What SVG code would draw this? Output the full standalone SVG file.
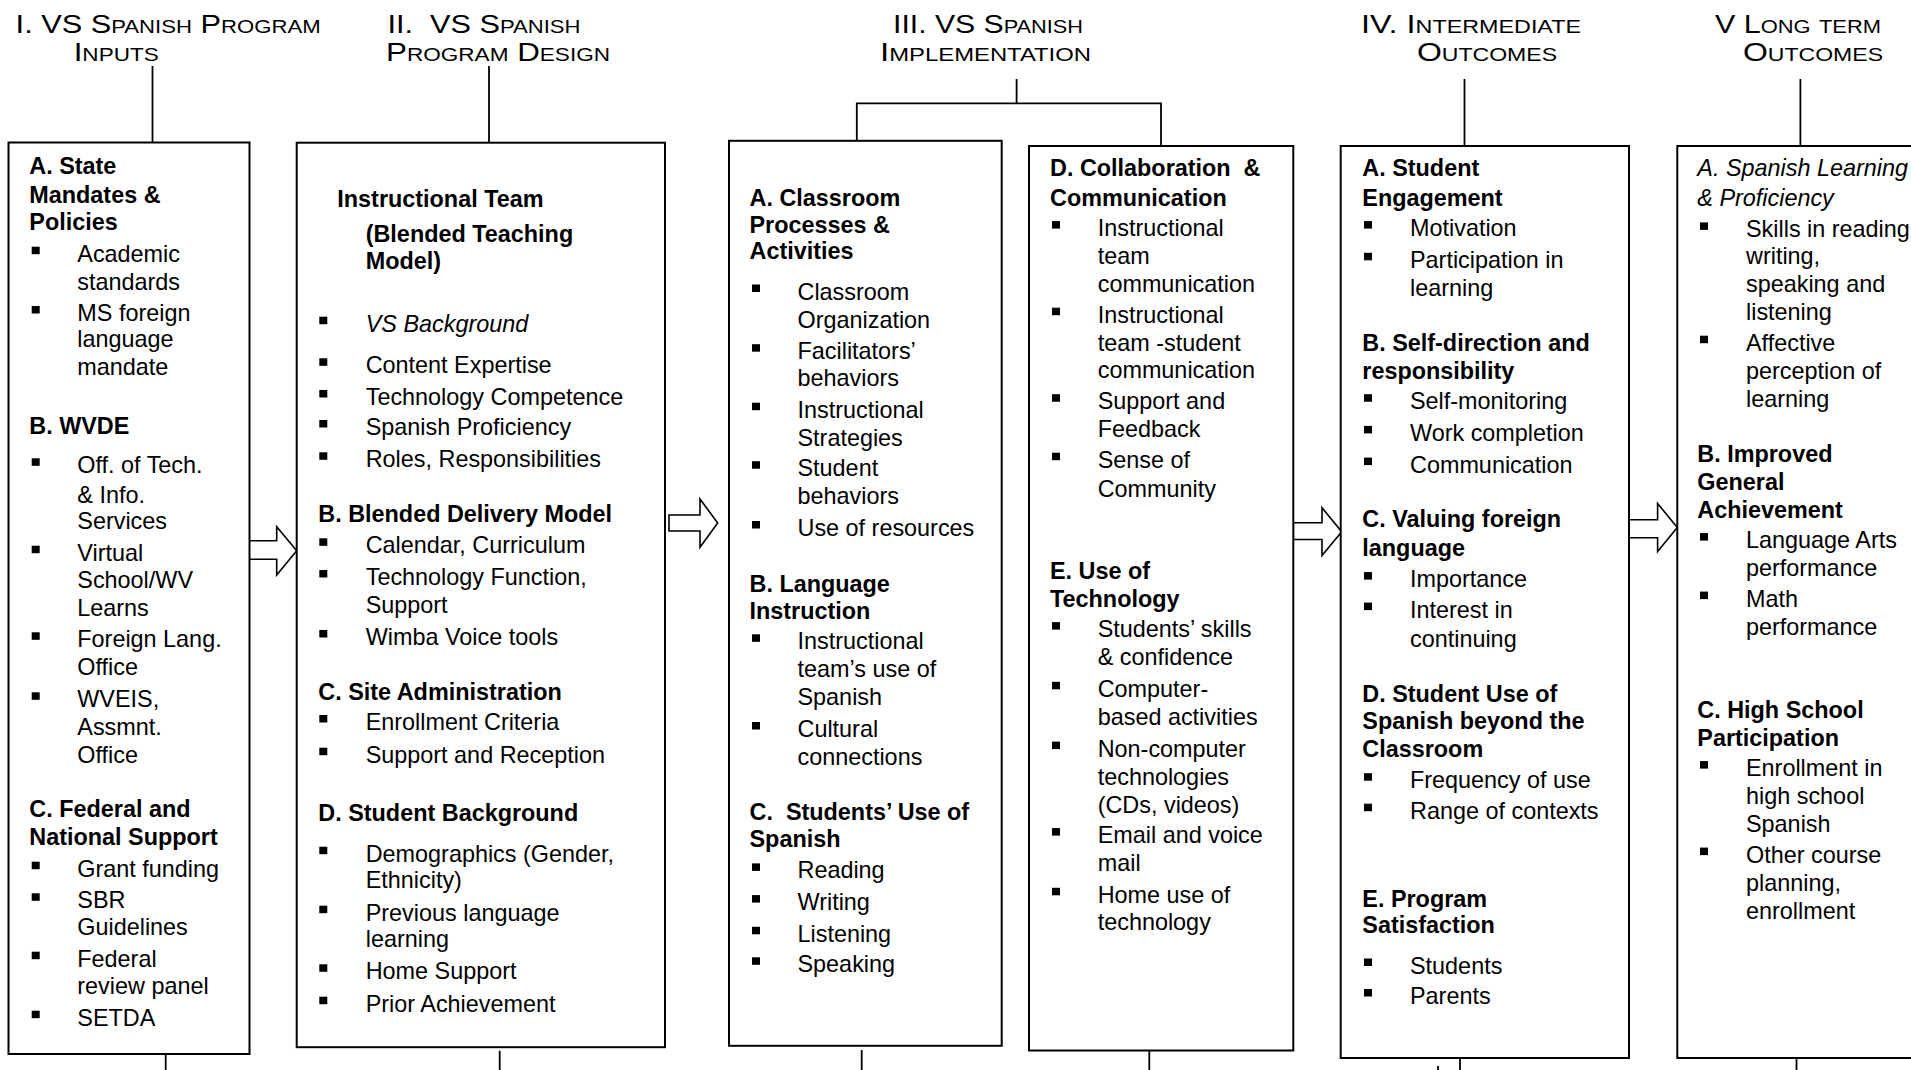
<svg xmlns="http://www.w3.org/2000/svg" xmlns:xlink="http://www.w3.org/1999/xlink" width="1911" height="1070" viewBox="0 0 1911 1070">
<style>
text{font-family:"Liberation Sans",Arial,sans-serif;font-size:23.4px;fill:#000;white-space:pre}
.h{font-size:25px;font-variant:small-caps}
.b{font-weight:bold}
.i{font-style:italic}
.box{fill:#fff;stroke:#000;stroke-width:2}
.ln{stroke:#000;stroke-width:1.8;fill:none}
.arr{fill:#fff;stroke:#000;stroke-width:1.6;stroke-linejoin:miter}
</style>
<defs><rect id="bul" width="8" height="7.5" fill="#000"/></defs>
<rect width="1911" height="1070" fill="#fff"/>

<g id="headers">
<g id="h1"><text class="h" x="15.6" y="32.7" textLength="305" lengthAdjust="spacingAndGlyphs">I. VS Spanish Program</text><text class="h" x="73.7" y="61" textLength="85" lengthAdjust="spacingAndGlyphs">Inputs</text></g>
<g id="h2"><text class="h" x="387.5" y="32.7" textLength="193" lengthAdjust="spacingAndGlyphs">II.  VS Spanish</text><text class="h" x="386" y="61" textLength="224" lengthAdjust="spacingAndGlyphs">Program Design</text></g>
<g id="h3"><text class="h" x="893" y="32.7" textLength="190" lengthAdjust="spacingAndGlyphs">III. VS Spanish</text><text class="h" x="880" y="61" textLength="211" lengthAdjust="spacingAndGlyphs">Implementation</text></g>
<g id="h4"><text class="h" x="1361" y="32.7" textLength="220" lengthAdjust="spacingAndGlyphs">IV. Intermediate</text><text class="h" x="1417" y="61" textLength="140" lengthAdjust="spacingAndGlyphs">Outcomes</text></g>
<g id="h5"><text class="h" x="1715" y="32.7" textLength="166" lengthAdjust="spacingAndGlyphs">V Long term</text><text class="h" x="1743" y="61" textLength="140" lengthAdjust="spacingAndGlyphs">Outcomes</text></g>
</g>

<g id="connectors">
<line class="ln" x1="152.5" y1="66" x2="152.5" y2="143"/>
<line class="ln" x1="489" y1="66" x2="489" y2="143"/>
<polyline class="ln" points="856.8,151.7 856.8,103.3 1161,103.3 1161,151.7"/>
<line class="ln" x1="1016.6" y1="79" x2="1016.6" y2="103.3"/>
<line class="ln" x1="1464.5" y1="79" x2="1464.5" y2="151.7"/>
<line class="ln" x1="1800.4" y1="79" x2="1800.4" y2="151.7"/>
<line class="ln" x1="165.7" y1="1050" x2="165.7" y2="1070"/>
<line class="ln" x1="499.7" y1="1050.7" x2="499.7" y2="1070"/>
<line class="ln" x1="861.7" y1="1050" x2="861.7" y2="1070"/>
<line class="ln" x1="1149.3" y1="1051" x2="1149.3" y2="1070"/>
<line class="ln" x1="1460" y1="1050.7" x2="1460" y2="1070"/>
<line class="ln" x1="1438" y1="1066" x2="1438" y2="1070"/>
<line class="ln" x1="1796.5" y1="1050" x2="1796.5" y2="1070"/>
<polygon class="arr" points="249,540.7 276.7,540.7 276.7,526.7 296.7,550.8 276.7,575 276.7,559.3 249,559.3"/>
<polygon class="arr" points="669,515 700,515 700,499 717.7,523 700,547.3 700,531 669,531"/>
<polygon class="arr" points="1293.3,522.7 1322,522.7 1322,507.7 1341.7,531.7 1322,555.6 1322,539.5 1293.3,539.5"/>
<polygon class="arr" points="1629,519.7 1657.6,519.7 1657.6,503.5 1677.3,527.5 1657.6,551.5 1657.6,537.7 1629,537.7"/>
</g>

<g id="box1">
<rect class="box" x="8.5" y="142.5" width="241" height="911.5"/>
<text class="b" x="29.3" y="174.3">A. State</text>
<text class="b" x="29.3" y="203.3">Mandates &amp;</text>
<text class="b" x="29.3" y="230">Policies</text>
<use href="#bul" x="31.7" y="246.7"/><text x="77.3" y="261.7">Academic</text>
<text x="77.3" y="290">standards</text>
<use href="#bul" x="31.7" y="306"/><text x="77.3" y="321">MS foreign</text>
<text x="77.3" y="347.3">language</text>
<text x="77.3" y="375">mandate</text>
<text class="b" x="29.3" y="434.3">B. WVDE</text>
<use href="#bul" x="31.7" y="458.3"/><text x="77.3" y="473.3">Off. of Tech.</text>
<text x="77.3" y="502.7">&amp; Info.</text>
<text x="77.3" y="529.3">Services</text>
<use href="#bul" x="31.7" y="545.7"/><text x="77.3" y="560.7">Virtual</text>
<text x="77.3" y="588.3">School/WV</text>
<text x="77.3" y="616">Learns</text>
<use href="#bul" x="31.7" y="632.3"/><text x="77.3" y="647.3">Foreign Lang.</text>
<text x="77.3" y="675">Office</text>
<use href="#bul" x="31.7" y="692.3"/><text x="77.3" y="707.3">WVEIS,</text>
<text x="77.3" y="735">Assmnt.</text>
<text x="77.3" y="762.7">Office</text>
<text class="b" x="29.3" y="817.3">C. Federal and</text>
<text class="b" x="29.3" y="845">National Support</text>
<use href="#bul" x="31.7" y="861.7"/><text x="77.3" y="876.7">Grant funding</text>
<use href="#bul" x="31.7" y="893.3"/><text x="77.3" y="908.3">SBR</text>
<text x="77.3" y="935">Guidelines</text>
<use href="#bul" x="31.7" y="951.7"/><text x="77.3" y="966.7">Federal</text>
<text x="77.3" y="994">review panel</text>
<use href="#bul" x="31.7" y="1010.7"/><text x="77.3" y="1025.7">SETDA</text>
</g>

<g id="box2">
<rect class="box" x="296.7" y="142.7" width="368.3" height="904.5"/>
<text class="b" x="337.3" y="206.7">Instructional Team</text>
<text class="b" x="365.7" y="241.7">(Blended Teaching</text>
<text class="b" x="365.7" y="269.3">Model)</text>
<use href="#bul" x="319.3" y="316.7"/><text class="i" x="365.7" y="331.7">VS Background</text>
<use href="#bul" x="319.3" y="358.3"/><text x="365.7" y="373.3">Content Expertise</text>
<use href="#bul" x="319.3" y="390"/><text x="365.7" y="405">Technology Competence</text>
<use href="#bul" x="319.3" y="420"/><text x="365.7" y="435">Spanish Proficiency</text>
<use href="#bul" x="319.3" y="452.3"/><text x="365.7" y="467.3">Roles, Responsibilities</text>
<text class="b" x="318.3" y="521.7">B. Blended Delivery Model</text>
<use href="#bul" x="319.3" y="538.3"/><text x="365.7" y="553.3">Calendar, Curriculum</text>
<use href="#bul" x="319.3" y="570"/><text x="365.7" y="585">Technology Function,</text>
<text x="365.7" y="612.7">Support</text>
<use href="#bul" x="319.3" y="630"/><text x="365.7" y="645">Wimba Voice tools</text>
<text class="b" x="318.3" y="700">C. Site Administration</text>
<use href="#bul" x="319.3" y="715"/><text x="365.7" y="730">Enrollment Criteria</text>
<use href="#bul" x="319.3" y="747.7"/><text x="365.7" y="762.7">Support and Reception</text>
<text class="b" x="318.3" y="821">D. Student Background</text>
<use href="#bul" x="319.3" y="846.7"/><text x="365.7" y="861.7">Demographics (Gender,</text>
<text x="365.7" y="888.3">Ethnicity)</text>
<use href="#bul" x="319.3" y="905.7"/><text x="365.7" y="920.7">Previous language</text>
<text x="365.7" y="947.3">learning</text>
<use href="#bul" x="319.3" y="964.3"/><text x="365.7" y="979.3">Home Support</text>
<use href="#bul" x="319.3" y="996.7"/><text x="365.7" y="1011.7">Prior Achievement</text>
</g>

<g id="box3">
<rect class="box" x="729" y="140.8" width="272.7" height="905"/>
<text class="b" x="749.5" y="205.7">A. Classroom</text>
<text class="b" x="749.5" y="232.5">Processes &amp;</text>
<text class="b" x="749.5" y="259.3">Activities</text>
<use href="#bul" x="752" y="284.5"/><text x="797.5" y="299.5">Classroom</text>
<text x="797.5" y="327.5">Organization</text>
<use href="#bul" x="752" y="344.2"/><text x="797.5" y="359.2">Facilitators’</text>
<text x="797.5" y="386">behaviors</text>
<use href="#bul" x="752" y="402.7"/><text x="797.5" y="417.7">Instructional</text>
<text x="797.5" y="445.8">Strategies</text>
<use href="#bul" x="752" y="461.2"/><text x="797.5" y="476.2">Student</text>
<text x="797.5" y="504.3">behaviors</text>
<use href="#bul" x="752" y="521"/><text x="797.5" y="536">Use of resources</text>
<text class="b" x="749.5" y="592">B. Language</text>
<text class="b" x="749.5" y="618.8">Instruction</text>
<use href="#bul" x="752" y="634.3"/><text x="797.5" y="649.3">Instructional</text>
<text x="797.5" y="677.3">team’s use of</text>
<text x="797.5" y="705.4">Spanish</text>
<use href="#bul" x="752" y="722"/><text x="797.5" y="737">Cultural</text>
<text x="797.5" y="765">connections</text>
<text class="b" x="749.5" y="820">C.  Students’ Use of</text>
<text class="b" x="749.5" y="846.8">Spanish</text>
<use href="#bul" x="752" y="863.4"/><text x="797.5" y="878.4">Reading</text>
<use href="#bul" x="752" y="895.1"/><text x="797.5" y="910.1">Writing</text>
<use href="#bul" x="752" y="926.8"/><text x="797.5" y="941.8">Listening</text>
<use href="#bul" x="752" y="957.3"/><text x="797.5" y="972.3">Speaking</text>
</g>

<g id="box4">
<rect class="box" x="1029" y="146" width="264.3" height="904.5"/>
<text class="b" x="1050" y="176.4">D. Collaboration  &amp;</text>
<text class="b" x="1050" y="205.7">Communication</text>
<use href="#bul" x="1052" y="221.1"/><text x="1097.7" y="236.1">Instructional</text>
<text x="1097.7" y="264.2">team</text>
<text x="1097.7" y="292.2">communication</text>
<use href="#bul" x="1052" y="307.7"/><text x="1097.7" y="322.7">Instructional</text>
<text x="1097.7" y="350.7">team -student</text>
<text x="1097.7" y="377.5">communication</text>
<use href="#bul" x="1052" y="394.2"/><text x="1097.7" y="409.2">Support and</text>
<text x="1097.7" y="437.2">Feedback</text>
<use href="#bul" x="1052" y="452.7"/><text x="1097.7" y="467.7">Sense of</text>
<text x="1097.7" y="497">Community</text>
<text class="b" x="1050" y="578.6">E. Use of</text>
<text class="b" x="1050" y="606.6">Technology</text>
<use href="#bul" x="1052" y="622.1"/><text x="1097.7" y="637.1">Students’ skills</text>
<text x="1097.7" y="665.2">&amp; confidence</text>
<use href="#bul" x="1052" y="681.8"/><text x="1097.7" y="696.8">Computer-</text>
<text x="1097.7" y="724.9">based activities</text>
<use href="#bul" x="1052" y="741.6"/><text x="1097.7" y="756.6">Non-computer</text>
<text x="1097.7" y="784.6">technologies</text>
<text x="1097.7" y="812.6">(CDs, videos)</text>
<use href="#bul" x="1052" y="828.1"/><text x="1097.7" y="843.1">Email and voice</text>
<text x="1097.7" y="871.1">mail</text>
<use href="#bul" x="1052" y="887.8"/><text x="1097.7" y="902.8">Home use of</text>
<text x="1097.7" y="929.6">technology</text>
</g>

<g id="box5">
<rect class="box" x="1340.7" y="146" width="288.3" height="912"/>
<text class="b" x="1362.3" y="176.4">A. Student</text>
<text class="b" x="1362.3" y="205.7">Engagement</text>
<use href="#bul" x="1364" y="221.1"/><text x="1410" y="236.1">Motivation</text>
<use href="#bul" x="1364" y="252.8"/><text x="1410" y="267.8">Participation in</text>
<text x="1410" y="295.9">learning</text>
<text class="b" x="1362.3" y="350.7">B. Self-direction and</text>
<text class="b" x="1362.3" y="378.7">responsibility</text>
<use href="#bul" x="1364" y="394.2"/><text x="1410" y="409.2">Self-monitoring</text>
<use href="#bul" x="1364" y="425.9"/><text x="1410" y="440.9">Work completion</text>
<use href="#bul" x="1364" y="457.6"/><text x="1410" y="472.6">Communication</text>
<text class="b" x="1362.3" y="527.4">C. Valuing foreign</text>
<text class="b" x="1362.3" y="555.5">language</text>
<use href="#bul" x="1364" y="572.1"/><text x="1410" y="587.1">Importance</text>
<use href="#bul" x="1364" y="602.6"/><text x="1410" y="617.6">Interest in</text>
<text x="1410" y="646.9">continuing</text>
<text class="b" x="1362.3" y="701.7">D. Student Use of</text>
<text class="b" x="1362.3" y="728.5">Spanish beyond the</text>
<text class="b" x="1362.3" y="756.6">Classroom</text>
<use href="#bul" x="1364" y="773.2"/><text x="1410" y="788.2">Frequency of use</text>
<use href="#bul" x="1364" y="803.7"/><text x="1410" y="818.7">Range of contexts</text>
<text class="b" x="1362.3" y="906.5">E. Program</text>
<text class="b" x="1362.3" y="933.3">Satisfaction</text>
<use href="#bul" x="1364" y="958.5"/><text x="1410" y="973.5">Students</text>
<use href="#bul" x="1364" y="989"/><text x="1410" y="1004">Parents</text>
</g>

<g id="box6">
<rect class="box" x="1677.3" y="146" width="260" height="912"/>
<text class="i" x="1697.3" y="176.4">A. Spanish Learning</text>
<text class="i" x="1697.3" y="205.7">&amp; Proficiency</text>
<use href="#bul" x="1700" y="222.4"/><text x="1746" y="237.4">Skills in reading</text>
<text x="1746" y="264.2">writing,</text>
<text x="1746" y="292.2">speaking and</text>
<text x="1746" y="320.2">listening</text>
<use href="#bul" x="1700" y="335.7"/><text x="1746" y="350.7">Affective</text>
<text x="1746" y="378.7">perception of</text>
<text x="1746" y="406.8">learning</text>
<text class="b" x="1697.3" y="461.6">B. Improved</text>
<text class="b" x="1697.3" y="489.6">General</text>
<text class="b" x="1697.3" y="517.7">Achievement</text>
<use href="#bul" x="1700" y="533.1"/><text x="1746" y="548.1">Language Arts</text>
<text x="1746" y="576.2">performance</text>
<use href="#bul" x="1700" y="591.6"/><text x="1746" y="606.6">Math</text>
<text x="1746" y="634.7">performance</text>
<text class="b" x="1697.3" y="717.6">C. High School</text>
<text class="b" x="1697.3" y="745.6">Participation</text>
<use href="#bul" x="1700" y="761.1"/><text x="1746" y="776.1">Enrollment in</text>
<text x="1746" y="804.1">high school</text>
<text x="1746" y="832.1">Spanish</text>
<use href="#bul" x="1700" y="847.6"/><text x="1746" y="862.6">Other course</text>
<text x="1746" y="890.6">planning,</text>
<text x="1746" y="918.7">enrollment</text>
</g>
</svg>
